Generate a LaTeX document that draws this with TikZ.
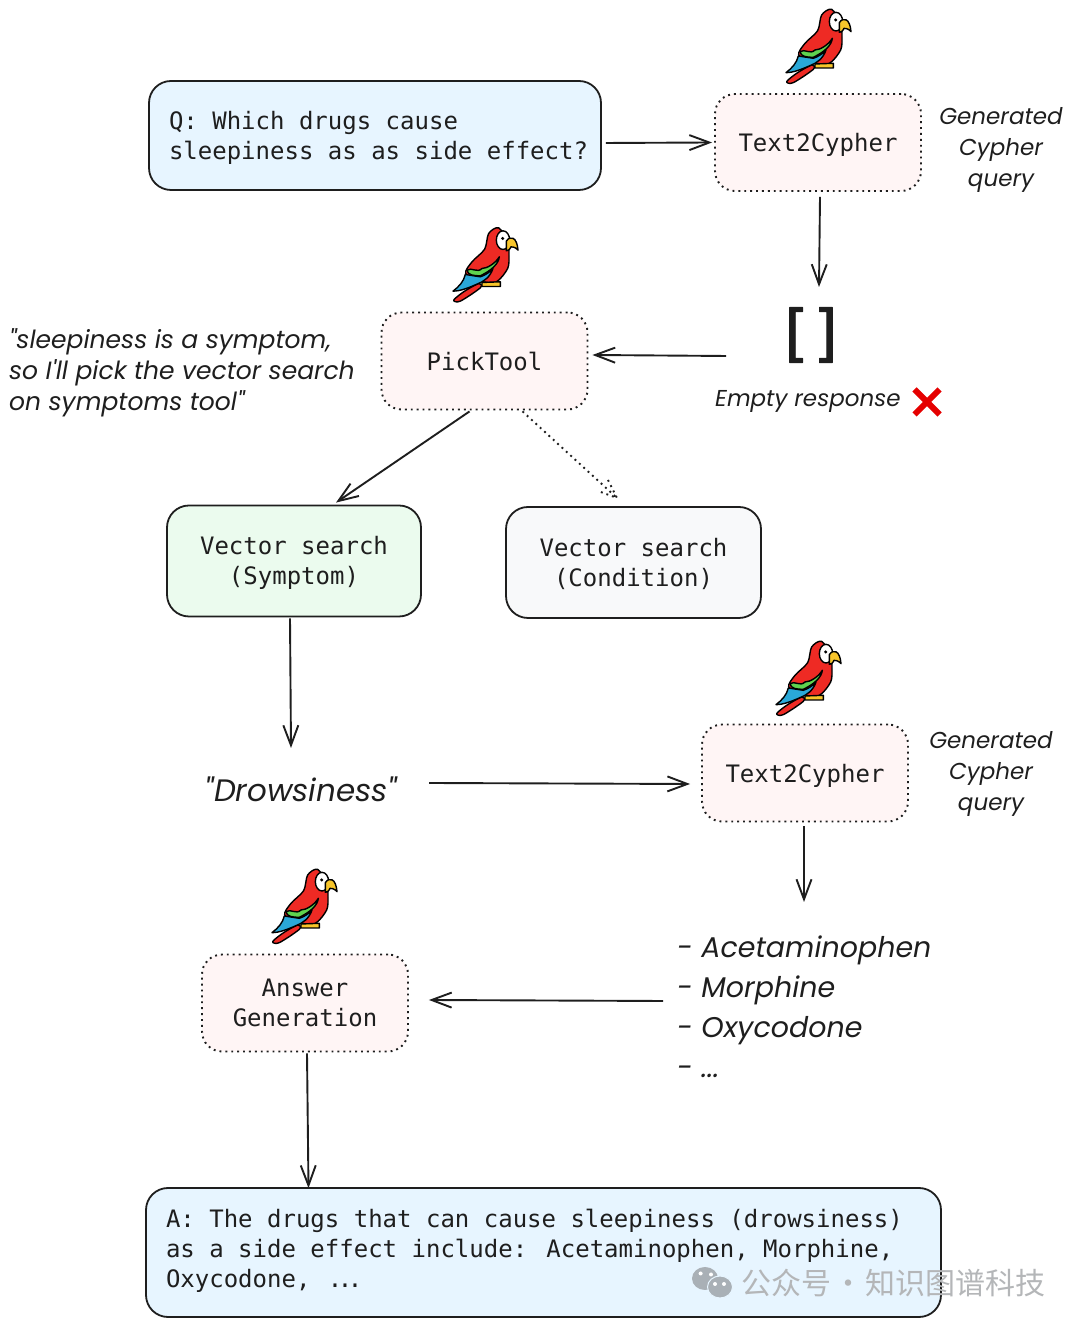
\documentclass[tikz,border=0pt]{standalone}
\usepackage{fontspec}
\usepackage{tikz}
\usetikzlibrary{arrows.meta}
\usetikzlibrary{shapes.misc,shapes.geometric}
\newfontfamily\monofam{DejaVu Sans Mono}
\newfontfamily\bracketfam{DejaVu Sans Mono}[FakeBold=1.5]
\newfontfamily\handfam{Poppins}
\newfontfamily\cjkfam{Noto Sans CJK SC}[WordSpace=0.35]
\definecolor{inkcol}{HTML}{1E1E1E}
\definecolor{bluefill}{HTML}{E7F5FF}
\definecolor{rosefill}{HTML}{FFF5F5}
\definecolor{greenfill}{HTML}{EBFBEE}
\definecolor{greyfill}{HTML}{F8F9FA}
\definecolor{marktext}{HTML}{B4B6B8}
\definecolor{markicon}{HTML}{A9B0B6}
\definecolor{birdred}{HTML}{EE2A24}
\definecolor{birdblue}{HTML}{2AA8D8}
\definecolor{birdgreen}{HTML}{5FD34F}
\definecolor{birdyellow}{HTML}{F7C52B}
\tikzset{
  monotext/.style={font=\monofam\fontsize{24bp}{30bp}\selectfont,text=inkcol,align=center,text depth=0pt},
  handtext/.style={font=\handfam\itshape\fontsize{23bp}{31bp}\selectfont,text=inkcol,inner sep=0pt},
  bighand/.style={handtext,font=\handfam\itshape\fontsize{28.5bp}{40bp}\selectfont},
  solidbox/.style={monotext,draw=inkcol,line width=1.8bp,rounded corners=22bp,inner sep=0pt},
  toolbox/.style={monotext,draw=inkcol,fill=rosefill,line width=1.9bp,dash pattern=on 1.9bp off 4bp,
    rounded corners=20bp,minimum width=206bp,minimum height=97bp,inner sep=0pt},
  linkline/.style={inkcol,line width=1.9bp,->},
  dotline/.style={inkcol,line width=1.9bp,dash pattern=on 1.9bp off 4bp},
  eyedot/.style={circle,fill=white,minimum size=4bp,inner sep=0pt},
  parrot/.pic={
    \begin{scope}[x=.3333bp,y=-.3333bp,draw=black,line width=1.4bp,line join=round]
    \draw [fill=birdred] plot [smooth cycle] coordinates {(125,195) (80,220) (50,245) (70,248) (130,208)};
    \draw [fill=birdred] plot [smooth cycle] coordinates {(185,28) (155,45) (143,92) (105,130) (86,165) (130,188) (178,190) (212,150) (216,110) (212,70)};
    \draw [fill=birdblue] (48,218) .. controls (65,205) and (80,190) .. (85,168) -- (130,175) .. controls (145,170) and (160,160) .. (168,150) .. controls (160,175) and (140,190) .. (120,197) .. controls (95,208) and (70,218) .. cycle;
    \draw [fill=birdgreen] (90,155) .. controls (105,145) and (120,165) .. (135,150) .. controls (150,150) and (175,135) .. (187,115) .. controls (185,135) and (165,155) .. (130,172) .. controls (110,172) and (92,170) .. cycle;
    \draw [fill=birdyellow] (135,192) -- (190,190) -- (190,204) -- (135,204) -- cycle;
    \draw [fill=white] (198,65) ellipse [x radius=20,y radius=28];
    \fill [black] (197,60) circle [radius=5];
    \draw [fill=birdyellow] (208,68) .. controls (220,50) and (240,55) .. (243,95) .. controls (235,85) and (225,85) .. (222,85) .. controls (218,95) and (212,97) .. (208,97) -- cycle;
    \end{scope}
  },
}
\begin{document}
\begin{tikzpicture}[>={Straight Barb[length=20bp,width=15bp]},line join=bevel,]
\useasboundingbox (0bp,0bp) rectangle (1080bp,1326bp);
%%
\node (node_question) at (375bp,1190.5bp) [solidbox,fill=bluefill,minimum width=452bp,minimum height=109bp,text width=412bp,inner xsep=20bp,align=flush left,text depth=31bp] {Q: Which drugs cause\\\makebox[412bp][l]{sleepiness as as side effect?}};
  \node (node_cypher_a) at (818bp,1183.5bp) [toolbox] {Text2Cypher};
  \node (node_note_a) at (1001bp,1176.5bp) [handtext,align=center] {Generated\\Cypher\\query};
  \node (node_empty) at (811bp,991bp) [font=\bracketfam\fontsize{62bp}{62bp}\selectfont,text=inkcol,inner sep=0pt] {[\kern-4bp]};
  \node (node_empty_label) at (715bp,924.5bp) [handtext,anchor=west] {Empty response};
  \node (node_cross) at (927bp,924bp) [cross out,draw=red!90!black,line width=6bp,minimum size=19bp,inner sep=0pt] {};
  \node (node_pick) at (484.5bp,965bp) [toolbox] {PickTool};
  \node (node_reason) at (9bp,953bp) [handtext,font=\handfam\itshape\fontsize{25bp}{31bp}\selectfont,anchor=west,align=flush left] {"sleepiness is a symptom,\\so I'll pick the vector search\\on symptoms tool"};
  \node (node_symptom) at (294bp,765bp) [solidbox,fill=greenfill,minimum width=254bp,minimum height=111bp,text depth=2bp] {Vector search\\(Symptom)};
  \node (node_condition) at (633.5bp,763.5bp) [solidbox,fill=greyfill,minimum width=255bp,minimum height=111bp] {Vector search\\(Condition)};
  \node (node_drowsy) at (301bp,537bp) [bighand,font=\handfam\itshape\fontsize{31bp}{40bp}\selectfont] {"Drowsiness"};
  \node (node_cypher_b) at (805bp,553bp) [toolbox] {Text2Cypher};
  \node (node_note_b) at (991bp,552bp) [handtext,align=center] {Generated\\Cypher\\query};
  \node (node_answergen) at (305bp,323bp) [toolbox] {Answer\\Generation};
  \node (node_drugs) at (677bp,319bp) [bighand,anchor=west,align=flush left] {- Acetaminophen\\- Morphine\\- Oxycodone\\- ...};
  \node (node_answer) at (543.5bp,73.5bp) [solidbox,fill=bluefill,minimum width=795bp,minimum height=129bp,text width=755bp,inner xsep=20bp,align=flush left,text depth=69bp] {A: The drugs that can cause sleepiness (drowsiness)\\as a side effect include: Acetaminophen, Morphine,\\Oxycodone,\ \kern3bp.\kern-4.5bp.\kern-4.5bp.};
%
  \pic at (770bp,1326bp) {parrot};
  \pic at (437bp,1107.5bp) {parrot};
  \pic at (760bp,694bp) {parrot};
  \pic at (256bp,466bp) {parrot};
%
  \coordinate (from_empty) at (726bp,970bp);
  \coordinate (to_empty) at (819bp,1039bp);
  \coordinate (to_drowsy) at (291bp,578bp);
  \coordinate (from_drowsy) at (429bp,543bp);
  \coordinate (to_drugs) at (804bp,424bp);
  \coordinate (from_drugs) at (663bp,325bp);
  \coordinate (dot_tip) at (617bp,828bp);
  \draw [linkline] ([xshift=4bp,yshift=-7.5bp]node_question.east) -- ([xshift=-2bp]node_cypher_a.west);
  \draw [linkline] ([xshift=2bp,yshift=-5bp]node_cypher_a.south) -- (to_empty);
  \draw [linkline] (from_empty) -- ([xshift=4bp,yshift=6bp]node_pick.east);
  \draw [linkline] ([xshift=-15bp,yshift=-1bp]node_pick.south) -- ([xshift=42bp,yshift=2bp]node_symptom.north);
  \draw [dotline] ([xshift=38bp,yshift=-1bp]node_pick.south) -- (dot_tip);
  \draw [dotline] ([xshift=-9bp,yshift=18bp]dot_tip) -- (dot_tip) -- ([xshift=-19bp,yshift=7bp]dot_tip);
  \draw [linkline] ([xshift=-4bp,yshift=-1bp]node_symptom.south) -- (to_drowsy);
  \draw [linkline] (from_drowsy) -- ([xshift=-11bp,yshift=-11bp]node_cypher_b.west);
  \draw [linkline] ([xshift=-1bp,yshift=-4bp]node_cypher_b.south) -- (to_drugs);
  \draw [linkline] (from_drugs) -- ([xshift=20bp,yshift=3bp]node_answergen.east);
  \draw [linkline] ([xshift=2bp,yshift=-1bp]node_answergen.south) -- ([xshift=-235bp,yshift=-1bp]node_answer.north);
%
  \node (node_wechat_a) at (705bp,47.5bp) [ellipse,fill=markicon,minimum width=26bp,minimum height=23bp,inner sep=0pt] {};
  \node (node_wechat_b) at (720bp,39bp) [ellipse,fill=markicon,draw=bluefill,line width=1bp,minimum width=25bp,minimum height=22bp,inner sep=0pt] {};
  \node (node_eye_a) at (700.6bp,52.5bp) [eyedot] {};
  \node (node_eye_b) at (711bp,51.5bp) [eyedot] {};
  \node (node_eye_c) at (715bp,42bp) [eyedot] {};
  \node (node_eye_d) at (724bp,42bp) [eyedot] {};
  \node (node_mark) at (741bp,43bp) [anchor=west,text=marktext,inner sep=0pt,font=\cjkfam\fontsize{30bp}{30bp}\selectfont] {公众号 · 知识图谱科技};
%
\end{tikzpicture}
\end{document}
